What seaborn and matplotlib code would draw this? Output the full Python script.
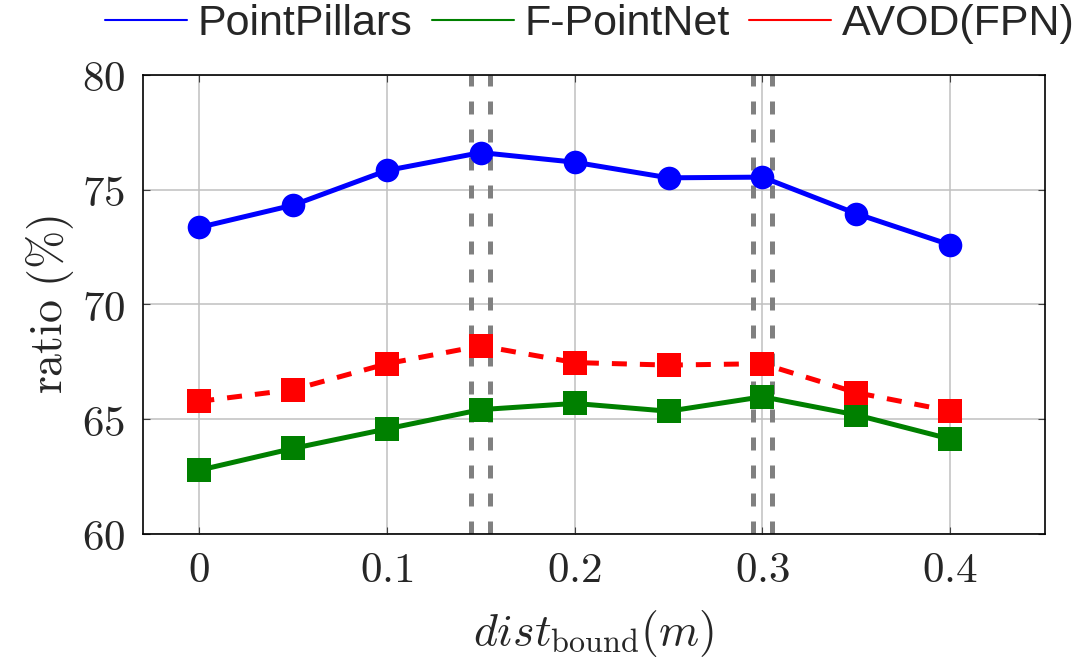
import numpy as np
import pandas as pd
import matplotlib
matplotlib.use("Agg")
import matplotlib.pyplot as plt
from matplotlib import font_manager
from matplotlib.lines import Line2D
import seaborn as sns

# ---- data ----
dist = [0.0, 0.05, 0.1, 0.15, 0.2, 0.25, 0.3, 0.35, 0.4]
pointpillars = [73.36, 74.33, 75.84, 76.62, 76.20, 75.52, 75.55, 73.96, 72.60]
fpointnet = [62.78, 63.73, 64.58, 65.42, 65.69, 65.35, 65.98, 65.19, 64.14]
avod_fpn = [65.78, 66.29, 67.42, 68.20, 67.47, 67.36, 67.42, 66.16, 65.36]
series_names = ["PointPillars", "F-PointNet", "AVOD(FPN)"]
vlines = [0.145, 0.155, 0.295, 0.305]
xticks = [0, 0.1, 0.2, 0.3, 0.4]
xtick_labels = ["0", "0.1", "0.2", "0.3", "0.4"]
yticks = [60, 65, 70, 75, 80]

sns.set_theme(style="white")
plt.rcParams["mathtext.fontset"] = "cm"

available = {f.name for f in font_manager.fontManager.ttflist}
legend_font = "DejaVu Sans"
for cand in ["Liberation Sans Narrow", "Liberation Sans"]:
    if cand in available:
        legend_font = cand
        break

fig = plt.figure(figsize=(10.76, 6.67), dpi=100)
ax = fig.add_axes([143 / 1076, 1 - 534 / 667, (1045 - 143) / 1076, (534 - 75) / 667])

for v in vlines:
    ax.axvline(v, color="#808080", lw=3.6, dashes=(2.6, 3.0), zorder=2)

df_pp = pd.DataFrame({"x": dist, "y": pointpillars})
df_fp = pd.DataFrame({"x": dist, "y": fpointnet})
df_av = pd.DataFrame({"x": dist, "y": avod_fpn})

sns.lineplot(data=df_pp, x="x", y="y", ax=ax, color="#0000ff", lw=3.6,
             marker="o", markersize=17, markeredgewidth=0, zorder=4)
sns.lineplot(data=df_fp, x="x", y="y", ax=ax, color="#008000", lw=3.6,
             marker="s", markersize=17, markeredgewidth=0, zorder=3)
sns.lineplot(data=df_av, x="x", y="y", ax=ax, color="#ff0000", lw=3.6,
             marker="s", markersize=17, markeredgewidth=0, zorder=3.5,
             linestyle=(0, (3.0, 2.6)))

ax.set_xlim(-0.03, 0.4506)
ax.set_ylim(60, 80)
ax.set_xticks(xticks)
ax.set_xticklabels(["$%s$" % t for t in xtick_labels])
ax.set_yticks(yticks)
ax.set_yticklabels(["$%d$" % t for t in yticks])
ax.tick_params(axis="both", which="major", direction="in", length=5, width=0.8,
               color="#404040", labelsize=31, top=True, right=True,
               bottom=True, left=True)
ax.tick_params(axis="x", pad=11)
ax.tick_params(axis="y", pad=13)
ax.grid(True, color="#c0c0c0", lw=1.1, zorder=0)
ax.set_axisbelow(True)
for s in ax.spines.values():
    s.set_color("black")
    s.set_linewidth(1.2)

ax.set_xlabel(r"$dist_{\mathrm{bound}}(m)$", fontsize=33, labelpad=12)
ax.set_ylabel(r"$\mathrm{ratio\ (\%)}$", fontsize=33, labelpad=4)

handles = [Line2D([0], [0], color=c, lw=1.5) for c in ["#0000ff", "#008000", "#ff0000"]]
leg = fig.legend(handles, series_names, loc="center", bbox_to_anchor=(590 / 1076, 1 - 24 / 667),
                 ncol=3, frameon=False, handlelength=1.9, handletextpad=0.25,
                 columnspacing=0.45, borderaxespad=0, borderpad=0,
                 prop={"family": legend_font, "size": 31})

fig.savefig("out.png", dpi=100)
